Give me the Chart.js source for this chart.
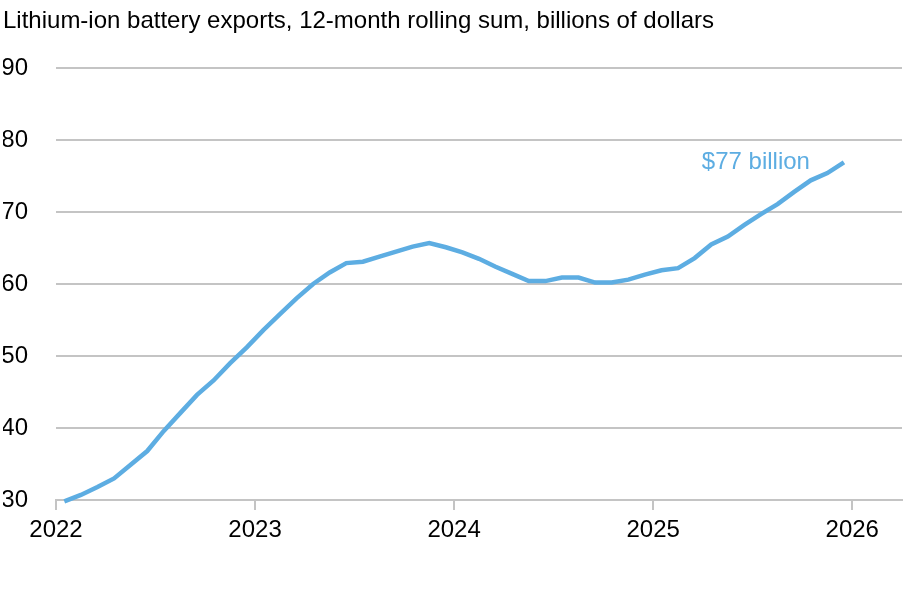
<!DOCTYPE html>
<html>
<head>
<meta charset="utf-8">
<title>Lithium-ion battery exports</title>
<script src="https://cdn.jsdelivr.net/npm/chart.js@4.4.1/dist/chart.umd.min.js"></script>
<style>
  html, body { margin: 0; padding: 0; background: #fff; }
  #wrap { width: 920px; height: 600px; }
</style>
</head>
<body>
<div id="wrap"><canvas id="chart" width="920" height="600"></canvas></div>
<script>
// monthly values, Jan 2022 .. Dec 2025 (12-month rolling sum, $bn)
const startYear = 2022;
const exportsBn = [
  29.8, 30.7, 31.8, 33.0, 34.9, 36.8, 39.6, 42.1, 44.6, 46.6, 49.0, 51.2,
  53.6, 55.8, 58.0, 60.0, 61.6, 62.9, 63.1, 63.8, 64.5, 65.2, 65.7, 65.1,
  64.4, 63.5, 62.4, 61.4, 60.4, 60.4, 60.9, 60.9, 60.2, 60.2, 60.6, 61.3,
  61.9, 62.2, 63.6, 65.5, 66.6, 68.2, 69.7, 71.1, 72.8, 74.4, 75.4, 76.9
];
const yearLabels = ["2022", "2023", "2024", "2025", "2026"];
const yTicks = [30, 40, 50, 60, 70, 80, 90];
const endLabel = "$77 billion";

const FONT = "'Liberation Sans', Arial, Helvetica, sans-serif";
const BLUE = "#5dade2";
const GRID = "#c4c4c4";

// x = months since Jan 2022, points placed mid-month
const points = exportsBn.map((v, i) => ({ x: i + 0.5, y: v }));

const endLabelPlugin = {
  id: "endLabel",
  afterDatasetsDraw(chart) {
    const meta = chart.getDatasetMeta(0);
    const last = meta.data[meta.data.length - 1];
    if (!last) return;
    const ctx = chart.ctx;
    ctx.save();
    ctx.font = "24px " + FONT;
    ctx.fillStyle = BLUE;
    ctx.textAlign = "right";
    ctx.textBaseline = "middle";
    ctx.fillText(endLabel, last.x - 34, last.y);
    ctx.restore();
  }
};

new Chart(document.getElementById("chart"), {
  type: "line",
  data: {
    datasets: [{
      label: "Lithium-ion battery exports",
      data: points,
      borderColor: BLUE,
      borderWidth: 4.5,
      pointRadius: 0,
      tension: 0,
      fill: false,
      clip: false,
    }],
  },
  options: {
    responsive: false,
    animation: false,
    layout: { padding: { left: 3, right: 18, top: 0, bottom: 0 } },
    plugins: {
      legend: { display: false },
      tooltip: { enabled: false },
      title: {
        display: true,
        text: "Lithium-ion battery exports, 12-month rolling sum, billions of dollars",
        align: "start",
        color: "#000",
        font: { family: FONT, size: 24, weight: "normal" },
        padding: { top: 6.5, bottom: 32.7 },
      },
    },
    scales: {
      x: {
        type: "linear",
        min: 0,
        max: 51,
        afterBuildTicks(scale) {
          scale.ticks = yearLabels.map((_, i) => ({ value: i * 12 }));
        },
        afterFit(scale) { scale.height = 100; },
        ticks: {
          color: "#000",
          font: { family: FONT, size: 24 },
          padding: 6,
          maxRotation: 0,
          autoSkip: false,
          callback: (v) => yearLabels[Math.round(v / 12)] || "",
        },
        grid: {
          drawOnChartArea: false,
          drawTicks: true,
          tickLength: 10,
          color: GRID,
          lineWidth: 2,
        },
        border: { display: true, color: GRID, width: 2 },
      },
      y: {
        min: 30,
        max: 90,
        afterBuildTicks(scale) {
          scale.ticks = yTicks.map(v => ({ value: v }));
        },
        afterFit(scale) { scale.width = 53; },
        ticks: {
          color: "#000",
          font: { family: FONT, size: 24 },
          padding: 28,
        },
        grid: {
          drawTicks: false,
          color: GRID,
          lineWidth: 2,
        },
        border: { display: false },
      },
    },
  },
  plugins: [endLabelPlugin],
});
</script>
</body>
</html>
